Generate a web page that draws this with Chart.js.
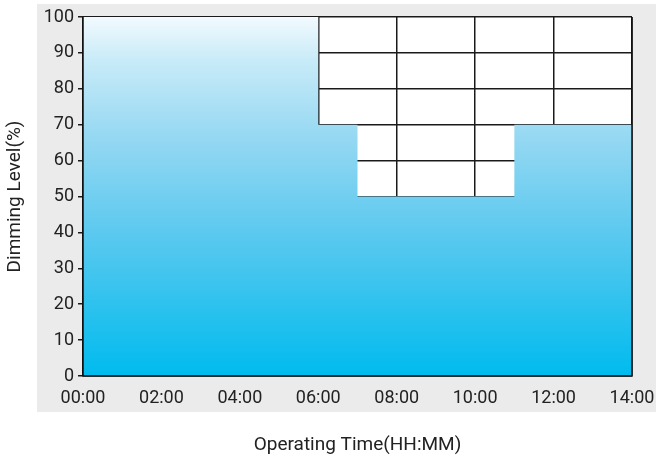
<!DOCTYPE html>
<html>
<head>
<meta charset="utf-8">
<script src="https://cdn.jsdelivr.net/npm/chart.js@4.4.0/dist/chart.umd.min.js"></script>
<style>
  html, body { margin: 0; padding: 0; background: #ffffff; }
  #wrap { width: 656px; height: 457px; }
</style>
</head>
<body>
<div id="wrap"><canvas id="myChart" width="656" height="457"></canvas></div>
<script>
// step points: hour of day and dimming level from that hour on
var timeHours = [0, 6, 7, 11, 14];
var dimmingLevel = [100, 70, 50, 70, 70];
var xTickLabels = ['00:00', '02:00', '04:00', '06:00', '08:00', '10:00', '12:00', '14:00'];
var yTicks = [0, 10, 20, 30, 40, 50, 60, 70, 80, 90, 100];

var punti = [];
for (var i = 0; i < timeHours.length; i++) {
    punti.push({ x: timeHours[i], y: dimmingLevel[i] });
}

// gray panel behind the plot + white plot area
var sfondo = {
    id: 'sfondo',
    beforeDraw: function (chart) {
        var ctx = chart.ctx;
        var a = chart.chartArea;
        ctx.save();
        ctx.fillStyle = '#ffffff';
        ctx.fillRect(0, 0, chart.width, chart.height);
        ctx.fillStyle = '#ebebeb';
        ctx.fillRect(a.left - 46, a.top - 13, chart.width - (a.left - 46), a.bottom - a.top + 49);
        ctx.fillStyle = '#ffffff';
        ctx.fillRect(a.left, a.top, a.right - a.left, a.bottom - a.top);
        ctx.restore();
    },
    afterDatasetsDraw: function (chart) {
        var ctx = chart.ctx;
        var a = chart.chartArea;
        ctx.save();
        ctx.strokeStyle = '#111111';
        ctx.lineWidth = 1.5;
        ctx.beginPath();
        ctx.moveTo(a.left, a.top);
        ctx.lineTo(a.left, a.bottom);
        ctx.lineTo(a.right, a.bottom);
        ctx.lineTo(a.right, a.top);
        ctx.stroke();
        ctx.restore();
    }
};

function gradiente(context) {
    var chart = context.chart;
    var a = chart.chartArea;
    if (!a) {
        return '#7fd0f0';
    }
    var g = chart.ctx.createLinearGradient(0, a.top, 0, a.bottom);
    g.addColorStop(0, '#f2fafe');
    g.addColorStop(0.12, '#c8ebf8');
    g.addColorStop(0.35, '#92d7f2');
    g.addColorStop(0.6, '#5cc9ef');
    g.addColorStop(1, '#00bbee');
    return g;
}

var ctx = document.getElementById('myChart');
var chart = new Chart(ctx, {
    type: 'line',
    data: {
        datasets: [{
            label: 'Dimming Level',
            data: punti,
            stepped: true,
            fill: 'origin',
            backgroundColor: gradiente,
            borderWidth: 0,
            borderColor: 'rgba(0,0,0,0)',
            pointRadius: 0
        }]
    },
    options: {
        responsive: false,
        animation: false,
        layout: {
            padding: { top: 17, right: 24, left: 0, bottom: 0 }
        },
        plugins: {
            legend: { display: false },
            tooltip: { enabled: false }
        },
        scales: {
            x: {
                type: 'linear',
                min: 0,
                max: 14,
                afterBuildTicks: function (scale) {
                    scale.ticks = xTickLabels.map(function (l, i) { return { value: i * 2 }; });
                },
                ticks: {
                    autoSkip: false,
                    maxRotation: 0,
                    padding: 0,
                    color: '#222222',
                    font: { family: 'Roboto', size: 18 },
                    callback: function (v) { return xTickLabels[v / 2]; }
                },
                grid: {
                    color: '#1a1a1a',
                    lineWidth: 1.5,
                    drawTicks: true,
                    tickLength: 12,
                    tickColor: 'rgba(0,0,0,0)'
                },
                border: { display: false },
                title: {
                    display: true,
                    text: 'Operating Time(HH:MM)',
                    color: '#222222',
                    font: { family: 'Roboto', size: 19 },
                    padding: { top: 18, bottom: 0 }
                },
                afterFit: function (scale) { scale.height = 81; }
            },
            y: {
                min: 0,
                max: 100,
                afterBuildTicks: function (scale) {
                    scale.ticks = yTicks.map(function (v) { return { value: v }; });
                },
                ticks: {
                    padding: 4,
                    color: '#222222',
                    font: { family: 'Roboto', size: 18 }
                },
                grid: {
                    color: '#1a1a1a',
                    lineWidth: 1.5,
                    tickLength: 5
                },
                border: { display: false },
                title: {
                    display: true,
                    text: 'Dimming Level(%)',
                    color: '#222222',
                    font: { family: 'Roboto', size: 19 },
                    padding: { top: 4, bottom: 0 }
                },
                afterFit: function (scale) { scale.width = 83; }
            }
        }
    },
    plugins: [sfondo]
});
</script>
</body>
</html>
